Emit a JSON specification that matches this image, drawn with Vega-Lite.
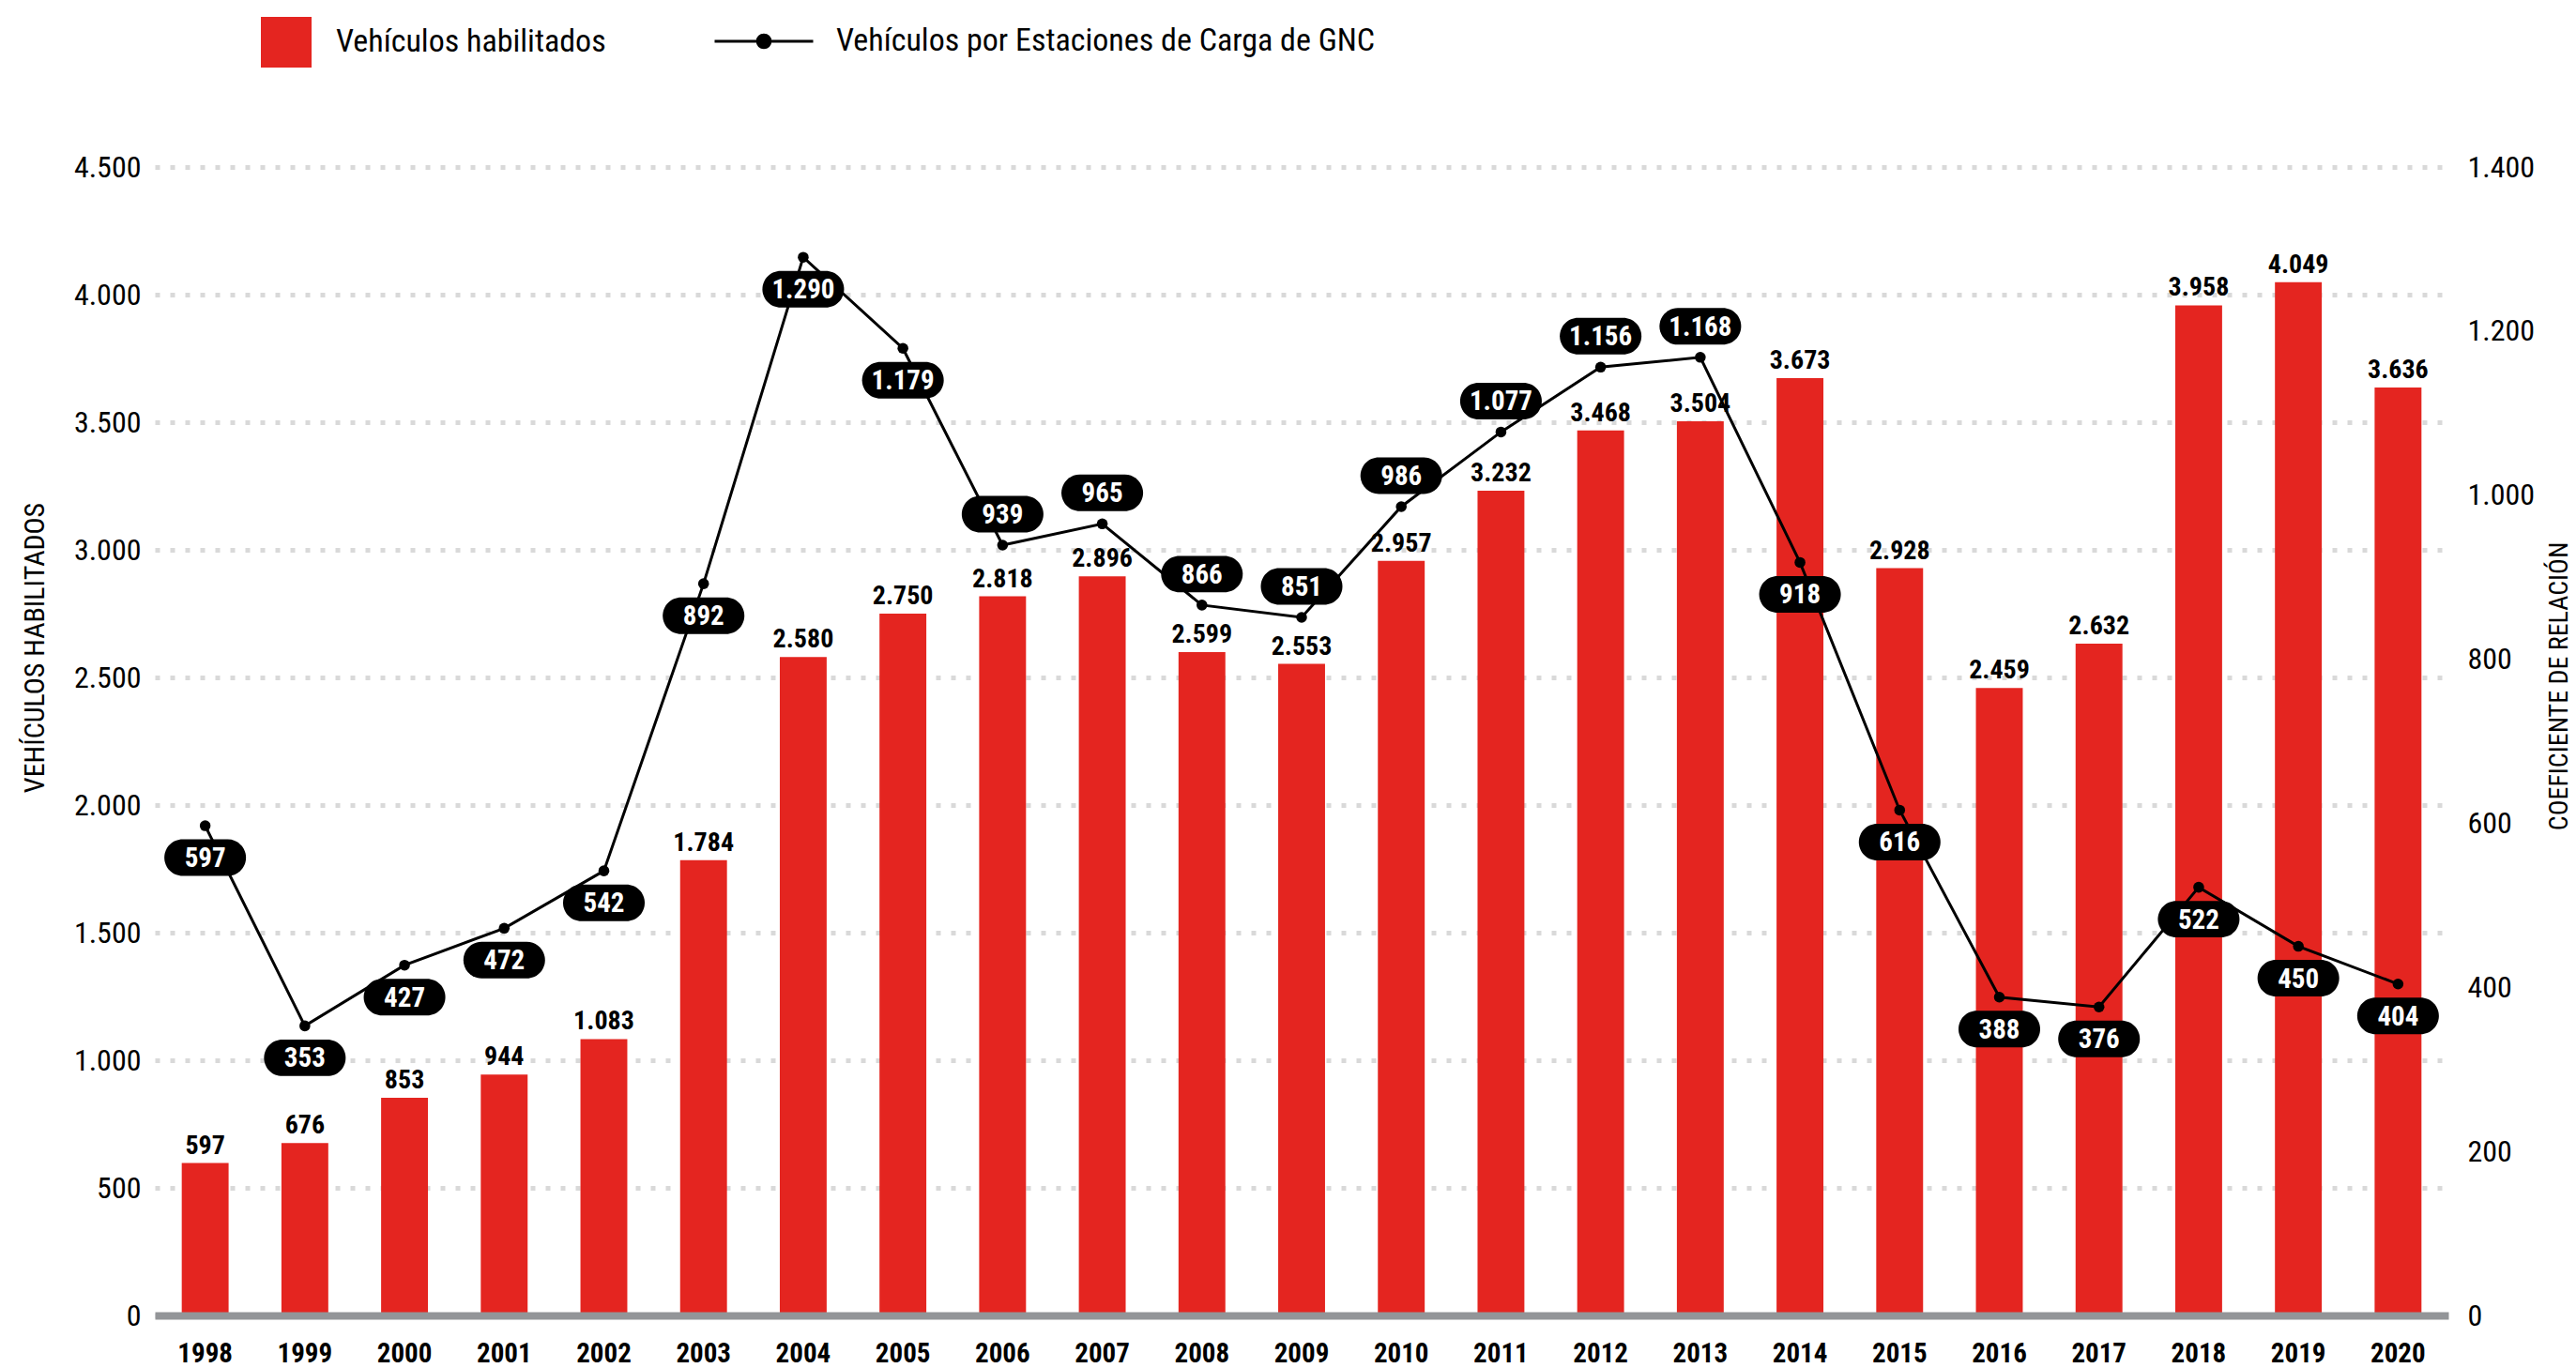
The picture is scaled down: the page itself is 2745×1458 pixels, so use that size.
{
  "$schema": "https://vega.github.io/schema/vega-lite/v6.json",
  "width": 2444,
  "height": 1224,
  "autosize": {"type": "none"},
  "padding": {"left": 165, "top": 178, "right": 136, "bottom": 56},
  "background": "white",
  "config": {
    "font": "Roboto Condensed, Liberation Sans Narrow, Roboto",
    "view": {"stroke": null},
    "locale": {"number": {"decimal": ",", "thousands": ".", "grouping": [3], "currency": ["$", ""]}},
    "axis": {"labelColor": "#000000", "titleColor": "#000000", "titleFontWeight": "normal"},
    "legend": {"labelColor": "#000000", "labelLimit": 0}
  },
  "data": {
    "values": [
      {"year": "1998", "veh": 597, "coef": 597},
      {"year": "1999", "veh": 676, "coef": 353},
      {"year": "2000", "veh": 853, "coef": 427},
      {"year": "2001", "veh": 944, "coef": 472},
      {"year": "2002", "veh": 1083, "coef": 542},
      {"year": "2003", "veh": 1784, "coef": 892},
      {"year": "2004", "veh": 2580, "coef": 1290},
      {"year": "2005", "veh": 2750, "coef": 1179},
      {"year": "2006", "veh": 2818, "coef": 939},
      {"year": "2007", "veh": 2896, "coef": 965},
      {"year": "2008", "veh": 2599, "coef": 866},
      {"year": "2009", "veh": 2553, "coef": 851},
      {"year": "2010", "veh": 2957, "coef": 986},
      {"year": "2011", "veh": 3232, "coef": 1077},
      {"year": "2012", "veh": 3468, "coef": 1156},
      {"year": "2013", "veh": 3504, "coef": 1168},
      {"year": "2014", "veh": 3673, "coef": 918},
      {"year": "2015", "veh": 2928, "coef": 616},
      {"year": "2016", "veh": 2459, "coef": 388},
      {"year": "2017", "veh": 2632, "coef": 376},
      {"year": "2018", "veh": 3958, "coef": 522},
      {"year": "2019", "veh": 4049, "coef": 450},
      {"year": "2020", "veh": 3636, "coef": 404}
    ]
  },
  "encoding": {
    "x": {
      "field": "year",
      "type": "ordinal",
      "scale": {"paddingInner": 0.53, "paddingOuter": 0.27},
      "axis": {
        "title": null,
        "labelAngle": 0,
        "labelFontSize": 29,
        "labelFontWeight": "bold",
        "labelPadding": 26,
        "ticks": false,
        "domain": true,
        "domainColor": "#939598",
        "domainWidth": 8,
        "zindex": 1
      }
    }
  },
  "layer": [
    {
      "encoding": {
        "y": {
          "field": "veh",
          "type": "quantitative",
          "scale": {"domain": [0, 4500], "nice": false},
          "axis": {
            "orient": "left",
            "values": [0, 500, 1000, 1500, 2000, 2500, 3000, 3500, 4000, 4500],
            "format": ",d",
            "grid": true,
            "gridColor": "#d9d9d9",
            "gridWidth": 5,
            "gridDash": [5, 11],
            "domain": false,
            "ticks": false,
            "labelFontSize": 32,
            "labelPadding": 15,
            "title": "VEHÍCULOS HABILITADOS",
            "titleFontSize": 30,
            "titleAngle": 270,
            "titleAlign": "center",
            "titleBaseline": "middle",
            "titleX": -128,
            "titleY": 512
          }
        }
      },
      "layer": [
        {
          "mark": {"type": "bar", "color": "#e42520"},
          "encoding": {
            "color": {
              "datum": "Vehículos habilitados",
              "scale": {"range": ["#e42520"]},
              "legend": {
                "title": null,
                "orient": "none",
                "legendX": 113,
                "legendY": -160,
                "padding": 0,
                "symbolType": "square",
                "symbolSize": 2916,
                "symbolStrokeWidth": 0,
                "labelFontSize": 34,
                "labelOffset": 26
              }
            }
          }
        },
        {
          "mark": {"type": "text", "baseline": "alphabetic", "dy": -10, "fontSize": 28, "fontWeight": "bold", "color": "#000000"},
          "encoding": {"text": {"field": "veh", "type": "quantitative", "format": ",d"}}
        }
      ]
    },
    {
      "encoding": {
        "y": {
          "field": "coef",
          "type": "quantitative",
          "scale": {"domain": [0, 1400], "nice": false},
          "axis": {
            "orient": "right",
            "values": [0, 200, 400, 600, 800, 1000, 1200, 1400],
            "format": ",d",
            "grid": false,
            "domain": false,
            "ticks": false,
            "labelFontSize": 32,
            "labelPadding": 20,
            "title": "COEFICIENTE DE RELACIÓN",
            "titleFontSize": 28,
            "titleAngle": 270,
            "titleAlign": "center",
            "titleBaseline": "middle",
            "titleX": 118,
            "titleY": 553
          }
        }
      },
      "layer": [
        {
          "mark": {"type": "line", "strokeWidth": 3},
          "encoding": {
            "stroke": {
              "datum": "Vehículos por Estaciones de Carga de GNC",
              "scale": {"range": ["#000000"]},
              "legend": {
                "title": null,
                "orient": "none",
                "legendX": 595,
                "legendY": -188,
                "padding": 0,
                "symbolType": "M-1,0L1,0M-0.13,0A0.13,0.13,0,1,1,0.13,0A0.13,0.13,0,1,1,-0.13,0Z",
                "symbolSize": 11025,
                "symbolStrokeWidth": 3,
                "labelFontSize": 34,
                "labelOffset": 23,
                "encode": {"symbols": {"update": {"fill": {"value": "#000000"}, "stroke": {"value": "#000000"}}}}
              }
            }
          }
        },
        {
          "mark": {"type": "point", "filled": true, "size": 133, "color": "#000000", "opacity": 1}
        },
        {
          "transform": [{"filter": "toNumber(datum.year) < 2006 || toNumber(datum.year) > 2013"}],
          "layer": [
            {
              "mark": {"type": "point", "filled": true, "opacity": 1, "color": "#000000", "size": 7569, "yOffset": 34,
                "shape": "M-0.552,-0.448L0.552,-0.448A0.448,0.448,0,0,1,0.552,0.448L-0.552,0.448A0.448,0.448,0,0,1,-0.552,-0.448Z"}
            },
            {
              "mark": {"type": "text", "baseline": "middle", "yOffset": 35, "fontSize": 29, "fontWeight": "bold", "color": "#ffffff"},
              "encoding": {"text": {"field": "coef", "type": "quantitative", "format": ",d"}}
            }
          ]
        },
        {
          "transform": [{"filter": "toNumber(datum.year) >= 2006 && toNumber(datum.year) <= 2013"}],
          "layer": [
            {
              "mark": {"type": "point", "filled": true, "opacity": 1, "color": "#000000", "size": 7569, "yOffset": -33,
                "shape": "M-0.552,-0.448L0.552,-0.448A0.448,0.448,0,0,1,0.552,0.448L-0.552,0.448A0.448,0.448,0,0,1,-0.552,-0.448Z"}
            },
            {
              "mark": {"type": "text", "baseline": "middle", "yOffset": -32, "fontSize": 29, "fontWeight": "bold", "color": "#ffffff"},
              "encoding": {"text": {"field": "coef", "type": "quantitative", "format": ",d"}}
            }
          ]
        }
      ]
    }
  ],
  "resolve": {"scale": {"y": "independent"}}
}
